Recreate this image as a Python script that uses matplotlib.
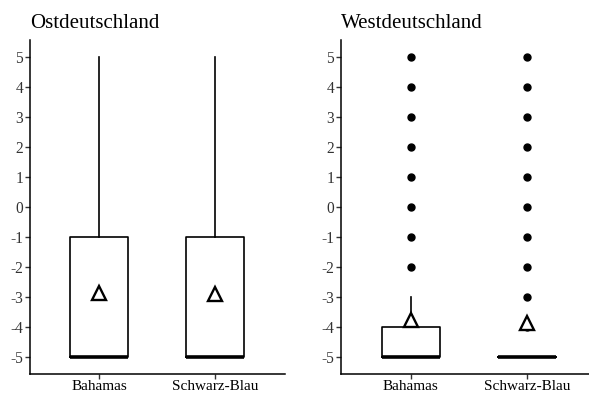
import matplotlib
matplotlib.use("Agg")
import matplotlib.pyplot as plt

plt.rcParams["font.family"] = ["Liberation Serif", "DejaVu Serif"]

# box statistics
categories = ["Bahamas", "Schwarz-Blau"]
panels = ["Ostdeutschland", "Westdeutschland"]

q1 = {"Ostdeutschland": [-5, -5], "Westdeutschland": [-5, -5]}
med = {"Ostdeutschland": [-5, -5], "Westdeutschland": [-5, -5]}
q3 = {"Ostdeutschland": [-1, -1], "Westdeutschland": [-4, -5]}
whislo = {"Ostdeutschland": [-5, -5], "Westdeutschland": [-5, -5]}
whishi = {"Ostdeutschland": [5, 5], "Westdeutschland": [-3, -5]}
means = {"Ostdeutschland": [-2.85, -2.9], "Westdeutschland": [-3.77, -3.85]}
fliers = {
    "Ostdeutschland": [[], []],
    "Westdeutschland": [[-2, -1, 0, 1, 2, 3, 4, 5],
                        [-4, -3, -2, -1, 0, 1, 2, 3, 4, 5]],
}
yticks = [-5, -4, -3, -2, -1, 0, 1, 2, 3, 4, 5]

fig = plt.figure(figsize=(5.89, 3.94), dpi=100)
W, H = 589, 394
ax_boxes = [
    fig.add_axes([30 / W, 1 - 374 / H, 255 / W, 334 / H]),
    fig.add_axes([341 / W, 1 - 374 / H, 248 / W, 334 / H]),
]
xlims = [(0.405, 2.6), (0.4, 2.535)]

for ax, panel, xl in zip(ax_boxes, panels, xlims):
    stats = []
    for i in range(len(categories)):
        stats.append(dict(q1=q1[panel][i], med=med[panel][i], q3=q3[panel][i],
                          whislo=whislo[panel][i], whishi=whishi[panel][i],
                          mean=means[panel][i], fliers=fliers[panel][i],
                          label=categories[i]))
    ax.bxp(stats, positions=[1, 2], widths=0.5, showcaps=False,
           showmeans=True, patch_artist=False,
           boxprops=dict(color="black", linewidth=1.2),
           whiskerprops=dict(color="black", linewidth=1.2),
           medianprops=dict(color="black", linewidth=2.6, solid_capstyle="butt"),
           flierprops=dict(marker="o", markerfacecolor="black",
                           markeredgecolor="black", markersize=5),
           meanprops=dict(marker="^", markerfacecolor="white",
                          markeredgecolor="black", markersize=10,
                          markeredgewidth=1.7))
    ax.set_xlim(*xl)
    ax.set_ylim(-5.55, 5.55)
    ax.set_yticks(yticks)
    ax.set_yticklabels([str(t) for t in yticks])
    for s in ["top", "right"]:
        ax.spines[s].set_visible(False)
    for s in ["left", "bottom"]:
        ax.spines[s].set_linewidth(1.1)
    ax.tick_params(direction="out", length=3.5, width=1.0,
                   labelsize=11.2, pad=1.5, colors="#333333")
    ax.tick_params(axis="x", labelcolor="black", pad=0.8, labelsize=11)
    ax.tick_params(axis="y", labelcolor="#333333")
    ax.set_title(panel, loc="left", fontsize=15, pad=9)

fig.savefig("out.png", dpi=100)
